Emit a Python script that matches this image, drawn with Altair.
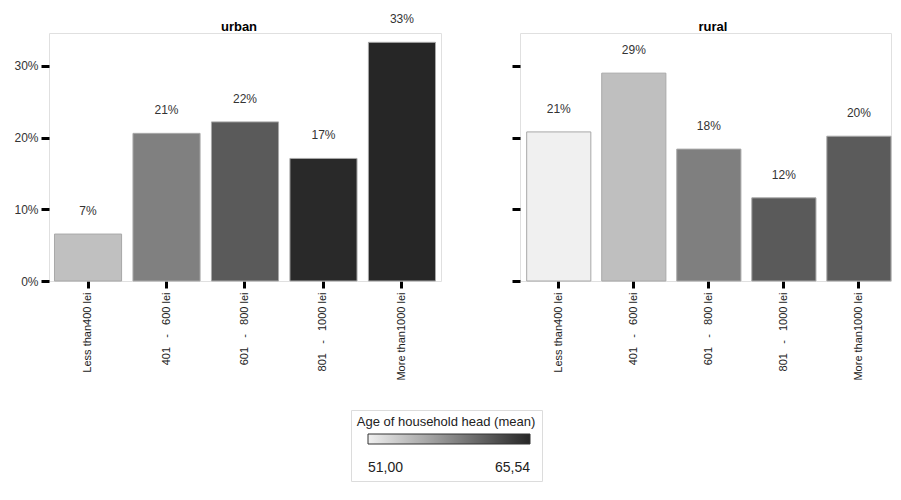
import altair as alt
import pandas as pd

SP = "\u00a0\u00a0\u00a0"
categories = [
    "Less than400 lei",
    "401" + SP + "-" + SP + "600 lei",
    "601" + SP + "-" + SP + "800 lei",
    "801" + SP + "-" + SP + "1000 lei",
    "More than1000 lei",
]
urban_share = [0.0655, 0.206, 0.222, 0.171, 0.333]
rural_share = [0.208, 0.290, 0.184, 0.116, 0.202]
urban_age = [54.46, 59.06, 61.8, 65.3, 65.54]
rural_age = [51.0, 54.5, 59.1, 61.8, 61.7]
age_domain = [51.0, 65.54]
y_ticks = [0.0, 0.1, 0.2, 0.3]
panel_titles = ["urban", "rural"]

FONT = "Liberation Sans"

urban_df = pd.DataFrame({"income": categories, "share": urban_share, "age": urban_age})
rural_df = pd.DataFrame({"income": categories, "share": rural_share, "age": rural_age})

color_scale = alt.Scale(domain=age_domain, range=["#f0f0f0", "#262626"], interpolate="rgb")

legend = alt.Legend(
    orient="none",
    legendX=302,
    legendY=377,
    direction="horizontal",
    title="Age of household head (mean)",
    titleFontSize=13,
    titleFontWeight="normal",
    titleColor="#222222",
    titleAnchor="middle",
    titlePadding=5,
    gradientLength=162,
    gradientThickness=10,
    gradientStrokeColor="#333333",
    gradientStrokeWidth=1,
    values=age_domain,
    labelExpr="replace(format(datum.value, '.2f'), '.', ',')",
    labelFontSize=14,
    labelColor="#222222",
    labelOffset=17,
    labelAlign="center",
    strokeColor="#dcdcdc",
    padding=6,
)


def panel(df, title, title_x, show_labels, width, x_scale):
    base = alt.Chart(df).encode(
        x=alt.X(
            "income:N",
            sort=categories,
            scale=x_scale,
            axis=alt.Axis(
                title=None,
                labelAngle=-90,
                labelFontSize=11,
                labelColor="#222222",
                labelPadding=4,
                tickSize=7,
                tickWidth=3,
                tickColor="#000000",
                domain=False,
                labelLimit=200,
            ),
        ),
        y=alt.Y(
            "share:Q",
            scale=alt.Scale(domain=[0, 0.346], nice=False, zero=True),
            axis=alt.Axis(
                title=None,
                values=y_ticks,
                format=".0%",
                labels=show_labels,
                labelFontSize=12,
                labelColor="#333333",
                labelPadding=3,
                tickSize=8,
                tickWidth=3,
                tickColor="#000000",
                domain=False,
                grid=False,
            ),
        ),
    )
    bars = base.mark_bar(stroke="#a8a8a8", strokeWidth=1).encode(
        color=alt.Color("age:Q", scale=color_scale, legend=legend)
    )
    labels = base.mark_text(dy=-23, fontSize=12, color="#333333", baseline="middle").encode(
        text=alt.Text("share:Q", format=".0%")
    )
    header = (
        alt.Chart(pd.DataFrame({"t": [title]}))
        .mark_text(fontSize=13, fontWeight="bold", color="#000000", baseline="middle", align="center")
        .encode(text="t:N", x=alt.value(title_x), y=alt.value(-6))
    )
    return alt.layer(bars, labels, header).properties(width=width, height=248)


urban_scale = alt.Scale(paddingInner=0.145, paddingOuter=0.07)
rural_scale = alt.Scale(paddingInner=0.145, paddingOuter=0.0445, align=1)

chart = (
    alt.hconcat(
        panel(urban_df, panel_titles[0], 190, True, 392, urban_scale),
        panel(rural_df, panel_titles[1], 193, False, 371, rural_scale),
        spacing=68,
    )
    .properties(padding={"left": 5, "top": 4, "right": 0, "bottom": 0})
    .configure(font=FONT)
    .configure_view(stroke="#e0e0e0", strokeWidth=1)
)

chart.save("out.html", embed_options={"renderer": "svg", "actions": False})
